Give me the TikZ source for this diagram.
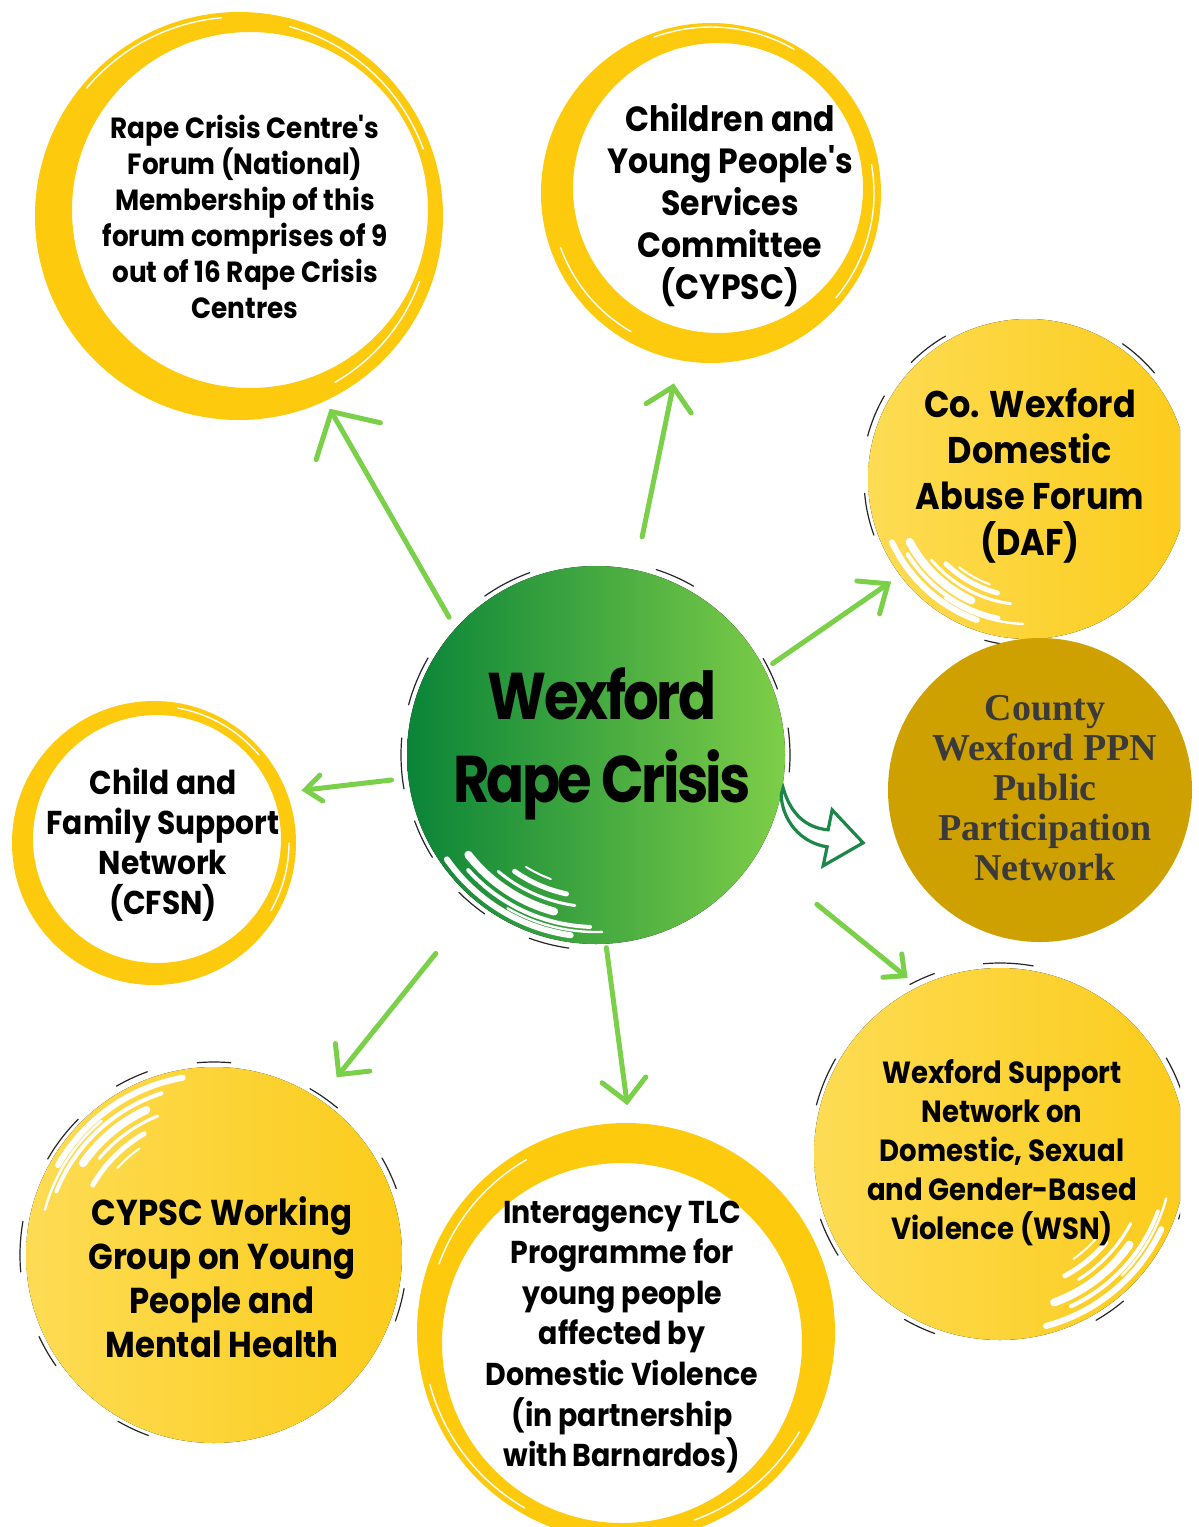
\documentclass[tikz,border=0pt]{standalone}
\usepackage{fontspec}
\usetikzlibrary{arrows.meta,calc}
\newfontfamily\popfont{Poppins}[FakeStretch=0.9]
\newfontfamily\bigfont{Poppins}[FakeStretch=0.85,LetterSpace=-4]
\newfontfamily\ppnfont{Liberation Serif}

\definecolor{ringyel}{RGB}{253,202,14}
\definecolor{yelA}{RGB}{253,220,84}
\definecolor{yelB}{RGB}{252,204,28}
\definecolor{gdark}{RGB}{10,132,56}
\definecolor{glight}{RGB}{126,206,72}
\definecolor{arrgreen}{RGB}{122,208,72}
\definecolor{ppnfill}{RGB}{207,161,0}
\definecolor{ppntext}{RGB}{58,58,58}
\definecolor{hollowgreen}{RGB}{28,135,72}

\tikzset{
  hub/.style={circle,inner sep=0pt,outer sep=0pt},
  lbl/.style={align=center,inner sep=0pt,text=black},
  arr/.style={draw=arrgreen,line width=2.5pt,line cap=round},
  barb/.style 2 args={-{Straight Barb[length=#1,width=#2,line cap=round]}},
  streak/.style={white,line cap=round},
  grit/.style={black!85,line width=0.6pt,line cap=round}
}

\begin{document}
\begin{tikzpicture}[x=0.5pt,y=0.5pt]
\useasboundingbox[fill=white] (0,0) rectangle (1199,-1527);

% ---------- outlined rings ----------
\fill[ringyel,even odd rule] (239,-216) circle[radius=204] (250,-210) circle[radius=178];
\fill[ringyel,even odd rule] (711,-193) circle[radius=170] (718,-188) circle[radius=145];
\fill[ringyel,even odd rule] (154,-843) circle[radius=142] (157,-839) circle[radius=124];
\fill[ringyel,even odd rule] (626,-1332) circle[radius=209] (622,-1343) circle[radius=180];

% thin white brush lines inside the rings
\foreach \c/\r/\a/\b in {{239,-216}/196/20/75, {239,-216}/192/-60/-20, {239,-216}/199/95/140,
                         {711,-193}/163/-40/10, {711,-193}/160/200/240, {711,-193}/166/60/110,
                         {154,-843}/137/40/80, {154,-843}/135/-30/0,
                         {626,-1332}/203/195/240, {626,-1332}/199/120/160, {626,-1332}/200/-70/-30}
  \draw[streak,line width=0.7pt] ($(\c)+(\a:\r)$) arc[start angle=\a,end angle=\b,radius=\r];

% ---------- filled discs ----------
\begin{scope}
  \clip (0,0) rectangle (1180,-1527);
  \fill[left color=yelA,right color=yelB] (1028,-479) circle[radius=160];
  \fill[left color=yelA,right color=yelB] (1000,-1154) circle[radius=186];
  \begin{scope}
    \clip (1028,-479) circle[radius=160];
    \foreach \r/\a/\b/\w in {150/205/250/3, 142/212/258/2, 134/208/245/4, 126/220/262/1.5,
                             118/226/255/2.5, 145/235/268/1.2, 112/232/250/1}
      \draw[streak,line width=\w pt] ($(1028,-479)+(\a:\r)$) arc[start angle=\a,end angle=\b,radius=\r];
  \end{scope}
  \begin{scope}
    \clip (1000,-1154) circle[radius=186];
    \foreach \r/\a/\b/\w in {178/-75/-25/3, 168/-65/-20/2, 158/-70/-35/4, 148/-58/-28/1.5,
                             138/-62/-40/2.5, 172/-45/-15/1.2, 128/-55/-42/1}
      \draw[streak,line width=\w pt] ($(1000,-1154)+(\a:\r)$) arc[start angle=\a,end angle=\b,radius=\r];
  \end{scope}
  \foreach \r/\a/\b in {165/120/135, 166/150/165, 164/185/200, 167/255/262, 165/40/55}
    \draw[grit] ($(1028,-479)+(\a:\r)$) arc[start angle=\a,end angle=\b,radius=\r];
  \foreach \r/\a/\b in {191/80/95, 192/110/118, 190/150/165, 191/200/212, 192/-60/-50, 190/-20/-10, 192/20/30, 191/240/250}
    \draw[grit] ($(1000,-1154)+(\a:\r)$) arc[start angle=\a,end angle=\b,radius=\r];
\end{scope}

\fill[left color=yelA,right color=yelB] (214,-1255) circle[radius=188];
\begin{scope}
  \clip (214,-1255) circle[radius=188];
  \foreach \r/\a/\b/\w in {180/100/150/3, 170/108/158/2, 160/115/145/4, 150/112/140/1.5,
                           140/120/150/2.5, 175/130/165/1.2, 130/125/138/1}
    \draw[streak,line width=\w pt] ($(214,-1255)+(\a:\r)$) arc[start angle=\a,end angle=\b,radius=\r];
\end{scope}
\foreach \r/\a/\b in {193/85/95, 195/110/120, 192/135/150, 194/170/185, 193/205/215, 192/240/250, 193/-20/-10, 194/20/30, 192/50/60}
  \draw[grit] ($(214,-1255)+(\a:\r)$) arc[start angle=\a,end angle=\b,radius=\r];

\fill[ppnfill] (1040,-790) circle[radius=152];

% ---------- central disc ----------
\fill[left color=gdark,right color=glight] (596,-755) circle[radius=189];
\begin{scope}
  \clip (596,-755) circle[radius=189];
  \foreach \r/\a/\b/\w in {182/215/262/3, 172/222/268/2, 162/218/255/4, 152/230/262/1.5,
                           142/235/258/2.5, 177/240/272/1.2, 132/238/250/1}
    \draw[streak,line width=\w pt] ($(596,-755)+(\a:\r)$) arc[start angle=\a,end angle=\b,radius=\r];
\end{scope}
\foreach \r/\a/\b in {194/150/165, 195/175/190, 193/200/212, 194/225/235, 195/250/262, 194/-5/8, 193/20/30, 195/60/72, 194/110/125}
  \draw[grit] ($(596,-755)+(\a:\r)$) arc[start angle=\a,end angle=\b,radius=\r];

% ---------- named circle nodes (diameter in pt = radius in units) ----------
\node[hub,minimum size=189pt] (ctr) at (596,-755) {};
\node[hub,minimum size=204pt] (c1) at (239,-216) {};
\node[hub,minimum size=170pt] (c2) at (711,-193) {};
\node[hub,minimum size=160pt] (c3) at (1028,-479) {};
\node[hub,minimum size=152pt] (c4) at (1040,-790) {};
\node[hub,minimum size=186pt] (c5) at (1000,-1154) {};
\node[hub,minimum size=209pt] (c6) at (626,-1332) {};
\node[hub,minimum size=188pt] (c7) at (214,-1255) {};
\node[hub,minimum size=142pt] (c8) at (154,-843) {};

% ---------- labels ----------
\node[lbl,font=\bigfont\bfseries\fontsize{33}{41.5}\selectfont] (tctr) at (602,-744) {Wexford\\Rape Crisis};
\node[lbl,font=\popfont\bfseries\fontsize{14.6}{18}\selectfont] (t1) at (245,-217)
  {Rape Crisis Centre's\\Forum (National)\\Membership of this\\forum comprises of 9\\out of 16 Rape Crisis\\Centres};
\node[lbl,font=\popfont\bfseries\fontsize{17.5}{21}\selectfont] (t2) at (730,-205)
  {Children and\\Young People's\\Services\\Committee\\(CYPSC)};
\node[lbl,font=\popfont\bfseries\fontsize{18.6}{23}\selectfont] (t3) at (1030,-476)
  {Co. Wexford\\Domestic\\Abuse Forum\\(DAF)};
\node[lbl,text=ppntext,font=\ppnfont\bfseries\fontsize{19}{20}\selectfont] (t4) at (1045,-788)
  {County\\Wexford PPN\\Public\\Participation\\Network};
\node[lbl,font=\popfont\bfseries\fontsize{15.3}{19.5}\selectfont] (t5) at (1002,-1153)
  {Wexford Support\\Network on\\Domestic, Sexual\\and Gender-Based\\Violence (WSN)};
\node[lbl,font=\popfont\bfseries\fontsize{15.8}{20.3}\selectfont] (t6) at (622,-1337)
  {Interagency TLC\\Programme for\\young people\\affected by\\Domestic Violence\\(in partnership\\with\,Barnardos)};
\node[lbl,font=\popfont\bfseries\fontsize{18}{22}\selectfont] (t7) at (222,-1277)
  {CYPSC Working\\Group on Young\\People and\\Mental Health};
\node[lbl,font=\popfont\bfseries\fontsize{16.5}{20}\selectfont] (t8) at (163,-845)
  {Child and\\Family Support\\Network\\(CFSN)};

% ---------- connectors ----------
\draw[arr,barb={17pt}{37pt},shorten <=6.5pt,shorten >=4.5pt] (ctr.138.2) -- (c1.-65.4);
\draw[arr,barb={11pt}{23pt},shorten <=17pt,shorten >=12pt] (ctr.78.7) -- (c2.-101.6);
\draw[arr,barb={12pt}{20pt},shorten <=5pt,shorten >=5.5pt] (ctr.27.9) -- (c3.217.1);
\draw[arr,barb={8pt}{15pt},shorten <=39pt,shorten >=7pt] (ctr.-32.7) -- (c5.116.7);
\draw[arr,barb={11pt}{22pt},shorten <=2pt,shorten >=9pt] (ctr.-87.9) -- (c6.89.7);
\draw[arr,barb={11pt}{22pt},shorten <=33pt,shorten >=14pt] (ctr.-129.8) -- (c7.56.1);
\draw[arr,barb={8pt}{13pt},shorten <=8.5pt,shorten >=7.5pt] (ctr.187.8) -- (c8.21.7);

% hollow curved arrow towards the PPN disc
\draw[hollowgreen,fill=white,line width=1.6pt,line join=miter,shift={(ctr.-10.6)}]
  (1,0) .. controls (8,-25) and (23,-40) .. (46,-42) -- (50,-22) -- (81,-55) -- (41,-78)
  -- (45,-59) .. controls (18,-55) and (0,-32) .. (-1,-7) -- cycle;
\end{tikzpicture}
\end{document}
